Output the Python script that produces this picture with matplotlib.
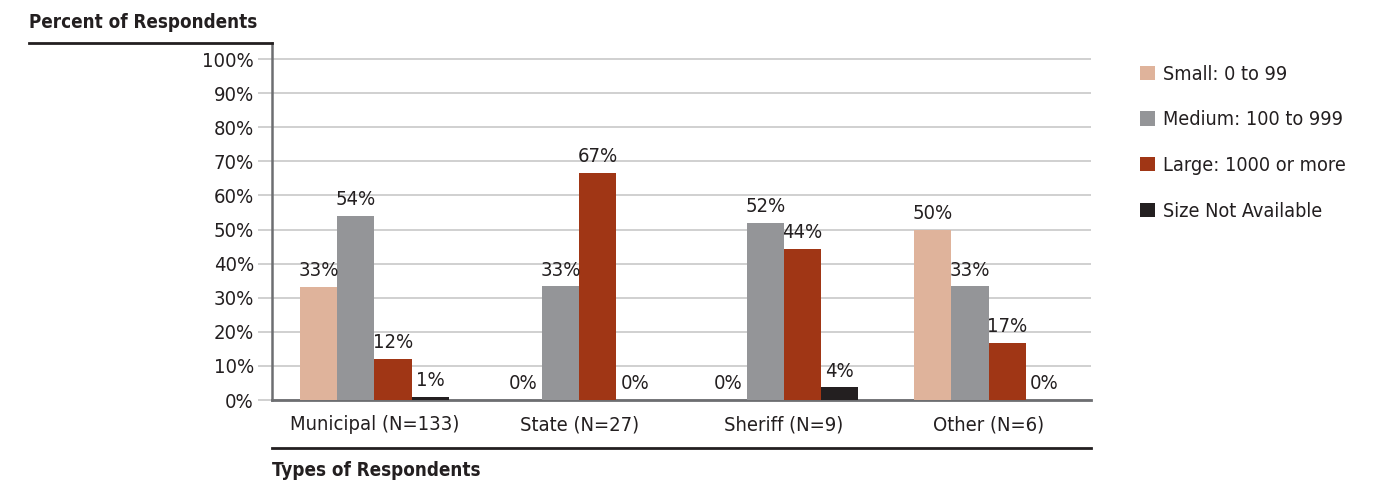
import matplotlib.pyplot as plt
import numpy as np
from matplotlib.lines import Line2D

plt.rcParams['font.family'] = ['Liberation Sans Narrow', 'DejaVu Sans']
plt.rcParams['font.stretch'] = 'condensed'

categories = ['Municipal (N=133)', 'State (N=27)', 'Sheriff (N=9)', 'Other (N=6)']
series = ['Small: 0 to 99', 'Medium: 100 to 999', 'Large: 1000 or more', 'Size Not Available']
small = [33.1, 0, 0, 50.0]
medium = [54.1, 33.3, 51.9, 33.3]
large = [12.0, 66.7, 44.4, 16.7]
not_avail = [0.8, 0, 3.7, 0]
colors = ['#dfb39b', '#949598', '#a03615', '#231f20']

W, H = 1379, 483
fig = plt.figure(figsize=(W / 100, H / 100), dpi=100)
ax = fig.add_axes([272 / W, 1 - 400 / H, (1091 - 272) / W, (400 - 43) / H])

x = np.arange(len(categories))
bw = 0.182
values = [small, medium, large, not_avail]
for i, (vals, col, name) in enumerate(zip(values, colors, series)):
    pos = x + (i - 1.5) * bw
    ax.bar(pos, vals, width=bw, color=col, label=name, zorder=3)
    for p, v in zip(pos, vals):
        ax.text(p, v + 2.0, f'{round(v)}%', ha='center', va='bottom',
                fontsize=14.5, color='#231f20', zorder=4)

ax.set_xlim(-0.5, 3.5)
ax.set_ylim(0, 104.7)
ax.set_yticks(np.arange(0, 101, 10))
ax.set_yticklabels([f'{t}%' for t in range(0, 101, 10)])
ax.set_xticks(x)
ax.set_xticklabels(categories)
ax.yaxis.grid(True, color='#c8c8c8', linewidth=1.2, zorder=0)
ax.tick_params(axis='y', length=10, color='#c8c8c8', width=1.2, labelsize=14.5,
               pad=3, labelcolor='#231f20')
ax.tick_params(axis='x', length=0, labelsize=14.5, pad=11, labelcolor='#231f20')
for s in ['top', 'right']:
    ax.spines[s].set_visible(False)
ax.spines['left'].set_color('#6d6e71')
ax.spines['left'].set_linewidth(1.8)
ax.spines['bottom'].set_color('#6d6e71')
ax.spines['bottom'].set_linewidth(2)

fig.text(29 / W, 1 - 22 / H, 'Percent of Respondents', fontsize=13.5, fontweight='bold',
         va='center', ha='left', color='#231f20')
fig.text(272 / W, 1 - 470 / H, 'Types of Respondents', fontsize=13.5, fontweight='bold',
         va='center', ha='left', color='#231f20')
fig.add_artist(Line2D([29 / W, 272 / W], [1 - 43 / H, 1 - 43 / H], color='#231f20', lw=2))
fig.add_artist(Line2D([272 / W, 1091 / W], [1 - 448 / H, 1 - 448 / H], color='#231f20', lw=2))

leg = fig.legend(loc='upper left', bbox_to_anchor=(1122 / W, 1 - 47 / H), frameon=False,
                 fontsize=14.2, handlelength=0.75, handleheight=0.75, handletextpad=0.45,
                 labelspacing=1.35)
for t in leg.get_texts():
    t.set_color('#231f20')

fig.savefig('out.png', dpi=100)
